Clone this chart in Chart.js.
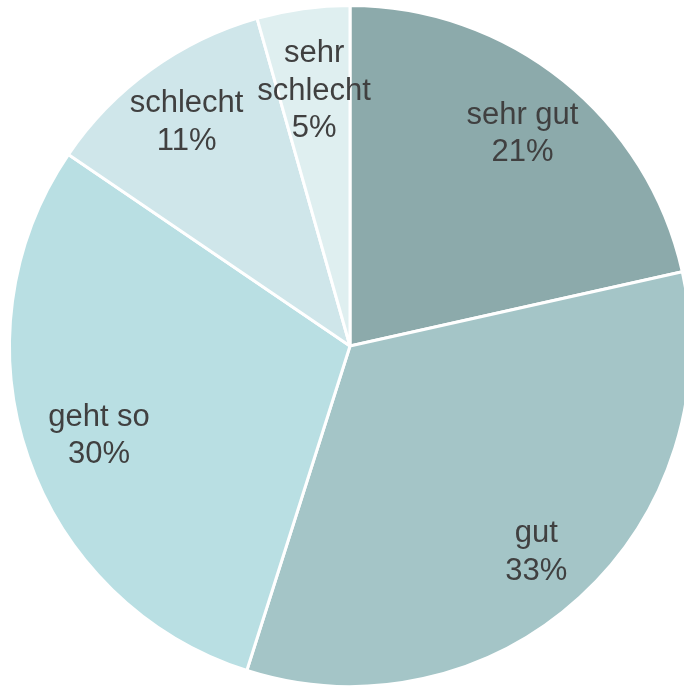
<!DOCTYPE html>
<html>
<head>
<meta charset="utf-8">
<script src="https://cdn.jsdelivr.net/npm/chart.js@4.4.0/dist/chart.umd.min.js"></script>
<style>
  html, body { margin: 0; padding: 0; background: #fff; overflow: hidden; }
  #wrap { position: absolute; left: 0; top: 0; width: 700px; height: 700px; }
</style>
</head>
<body>
<div id="wrap"><canvas id="myPieChart" width="700" height="700"></canvas></div>
<script>
const kategorien = ["sehr gut", "gut", "geht so", "schlecht", "sehr schlecht"]
const anteile = [21.5, 33.4, 29.6, 11.1, 4.4]
const prozentText = ["21%", "33%", "30%", "11%", "5%"]
const labelZeilen = [["sehr gut"], ["gut"], ["geht so"], ["schlecht"], ["sehr", "schlecht"]]
const farben = ['#8CAAAB', '#A4C5C7', '#B9DFE3', '#CFE6EA', '#DFEFF0']

// Abstand der Beschriftung vom Mittelpunkt (Anteil am Radius)
const labelAbstand = [0.81, 0.81, 0.78, 0.82, 0.765]

// Beschriftung direkt in die Segmente schreiben
const innenLabels = {
    id: 'innenLabels',
    afterDatasetsDraw(chart) {
        const ctx = chart.ctx;
        const meta = chart.getDatasetMeta(0);
        ctx.save();
        ctx.font = '31px "Liberation Sans", Arial, sans-serif';
        ctx.fillStyle = '#404040';
        ctx.textAlign = 'center';
        ctx.textBaseline = 'middle';
        meta.data.forEach((arc, i) => {
            const p = arc.getProps(['x', 'y', 'startAngle', 'endAngle', 'outerRadius'], true);
            const mitte = (p.startAngle + p.endAngle) / 2;
            const r = p.outerRadius * labelAbstand[i];
            const cx = p.x + Math.cos(mitte) * r;
            const cy = p.y + Math.sin(mitte) * r + 3;
            const zeilen = labelZeilen[i].concat([prozentText[i]]);
            const lh = 37.5;
            const y0 = cy - (zeilen.length - 1) * lh / 2;
            zeilen.forEach((z, k) => ctx.fillText(z, cx, y0 + k * lh));
        });
        ctx.restore();
    }
};

var pieCtx = document.getElementById('myPieChart').getContext('2d');
const pieChart = new Chart(pieCtx, {
    type: 'pie',
    data: {
        labels: kategorien,
        datasets: [
            {
                data: anteile,
                backgroundColor: farben,
                borderColor: '#ffffff',
                borderWidth: 3,
            }
        ]
    },
    options: {
        responsive: false,
        animation: false,
        devicePixelRatio: 1,
        layout: {
            padding: { top: 4, bottom: 12, left: 8, right: 8 }
        },
        plugins: {
            legend: { display: false },
            tooltip: { enabled: false }
        }
    },
    plugins: [innenLabels]
});
</script>
</body>
</html>
